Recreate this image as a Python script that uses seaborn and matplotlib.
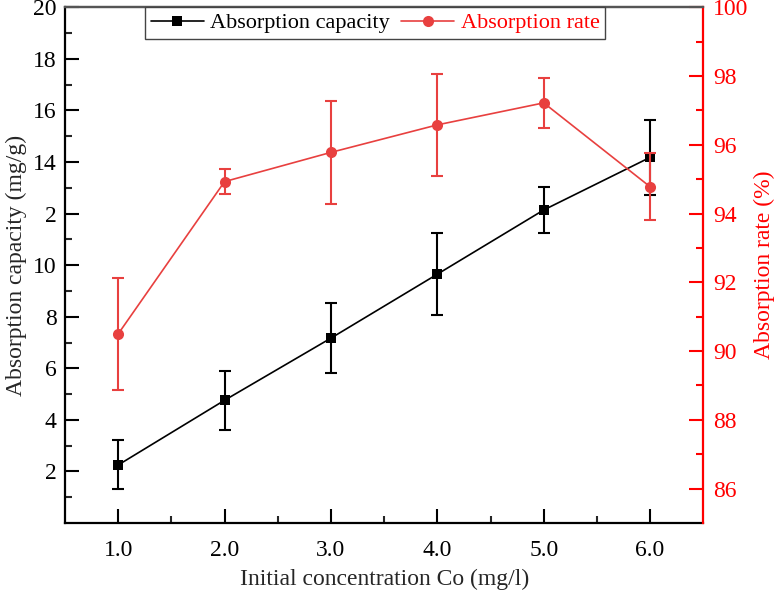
import matplotlib
matplotlib.use("Agg")
import matplotlib.pyplot as plt
import seaborn as sns
import numpy as np
import pandas as pd
from matplotlib.ticker import FixedLocator

concentration = [1.0, 2.0, 3.0, 4.0, 5.0, 6.0]
capacity = [2.25, 4.76, 7.17, 9.65, 12.14, 14.18]
capacity_err = [0.95, 1.15, 1.35, 1.6, 0.9, 1.45]
rate = [90.5, 94.93, 95.78, 96.58, 97.22, 94.78]
rate_err = [1.62, 0.37, 1.5, 1.49, 0.72, 0.98]

x_ticks = [1.0, 2.0, 3.0, 4.0, 5.0, 6.0]
x_tick_labels = ["1.0", "2.0", "3.0", "4.0", "5.0", "6.0"]
left_ticks = [2, 4, 6, 8, 10, 12, 14, 16, 18, 20]
left_tick_labels = ["2", "4", "6", "8", "10", "2", "14", "16", "18", "20"]
right_ticks = [86, 88, 90, 92, 94, 96, 98, 100]
right_tick_labels = ["86", "88", "90", "92", "94", "96", "98", "100"]

sns.set_style("ticks")
plt.rcParams["font.family"] = ["Liberation Serif", "DejaVu Serif"]

df = pd.DataFrame({"x": concentration, "cap": capacity, "rate": rate})

RED_LINE = "#e8403f"
RED_AXIS = "#ff0000"
FS = 17

fig = plt.figure(figsize=(7.79, 5.94), dpi=100)
ax = fig.add_axes([65/779, 1 - 523/594, (703.3 - 65)/779, (523 - 7.3)/594])
ax2 = ax.twinx()

sns.lineplot(data=df, x="x", y="cap", ax=ax, color="black", marker="s",
             markersize=7.5, markeredgewidth=0, linewidth=1.2, label="Absorption capacity",
             legend=False)
ax.errorbar(concentration, capacity, yerr=capacity_err, fmt="none", ecolor="black",
            elinewidth=1.5, capsize=4.5, capthick=1.5)

sns.lineplot(data=df, x="x", y="rate", ax=ax2, color=RED_LINE, marker="o",
             markersize=8, markeredgewidth=0, linewidth=1.2, label="Absorption rate",
             legend=False)
ax2.errorbar(concentration, rate, yerr=rate_err, fmt="none", ecolor=RED_LINE,
             elinewidth=1.5, capsize=4.5, capthick=1.5)

ax.set_xlim(0.5, 6.5)
ax.set_ylim(0, 20)
ax2.set_ylim(85, 100)

ax.xaxis.set_major_locator(FixedLocator(x_ticks))
ax.set_xticklabels(x_tick_labels)
ax.xaxis.set_minor_locator(FixedLocator([1.5, 2.5, 3.5, 4.5, 5.5]))
ax.yaxis.set_major_locator(FixedLocator(left_ticks))
ax.set_yticklabels(left_tick_labels)
ax.yaxis.set_minor_locator(FixedLocator([1, 3, 5, 7, 9, 11, 13, 15, 17, 19]))
ax2.yaxis.set_major_locator(FixedLocator(right_ticks))
ax2.set_yticklabels(right_tick_labels)
ax2.yaxis.set_minor_locator(FixedLocator([87, 89, 91, 93, 95, 97, 99]))

ax.tick_params(axis="both", which="major", direction="in", length=10, width=1.5,
               labelsize=FS, colors="black")
ax.tick_params(axis="both", which="minor", direction="in", length=5, width=1.5)
ax.tick_params(axis="x", which="major", pad=12)
ax.tick_params(axis="y", which="major", pad=6)
ax2.tick_params(axis="y", which="major", direction="in", length=10, width=1.5,
                labelsize=FS, colors=RED_AXIS, pad=7)
ax2.tick_params(axis="y", which="minor", direction="in", length=5, width=1.5,
                colors=RED_AXIS)

for s in ["left", "bottom"]:
    ax.spines[s].set_color("black")
    ax.spines[s].set_linewidth(1.6)
ax.spines["top"].set_color("#555555")
ax.spines["top"].set_linewidth(1.6)
ax.spines["right"].set_visible(False)
ax2.spines["right"].set_color(RED_AXIS)
ax2.spines["right"].set_linewidth(1.6)
ax2.spines["top"].set_color("#555555")
ax2.spines["top"].set_linewidth(1.6)
ax2.spines["left"].set_visible(False)
ax2.spines["bottom"].set_visible(False)

ax.set_xlabel("Initial concentration Co (mg/l)", fontsize=FS, labelpad=6)
ax.set_ylabel("Absorption capacity (mg/g)", fontsize=FS, labelpad=4)
ax2.set_ylabel("Absorption rate (%)", fontsize=FS, color=RED_AXIS, labelpad=4)

h1, l1 = ax.get_legend_handles_labels()
h2, l2 = ax2.get_legend_handles_labels()
leg = ax2.legend(h1 + h2, l1 + l2, loc="upper left", bbox_to_anchor=(0.1253, 1.0),
                 ncol=2, fontsize=16, frameon=True, fancybox=False,
                 edgecolor="#444444", framealpha=1, borderpad=0.25,
                 handlelength=2.4, handletextpad=0.28, columnspacing=0.5,
                 borderaxespad=0)
leg.get_frame().set_linewidth(1.0)
leg.get_texts()[0].set_color("black")
leg.get_texts()[1].set_color(RED_AXIS)

fig.savefig("out.png", dpi=100)
